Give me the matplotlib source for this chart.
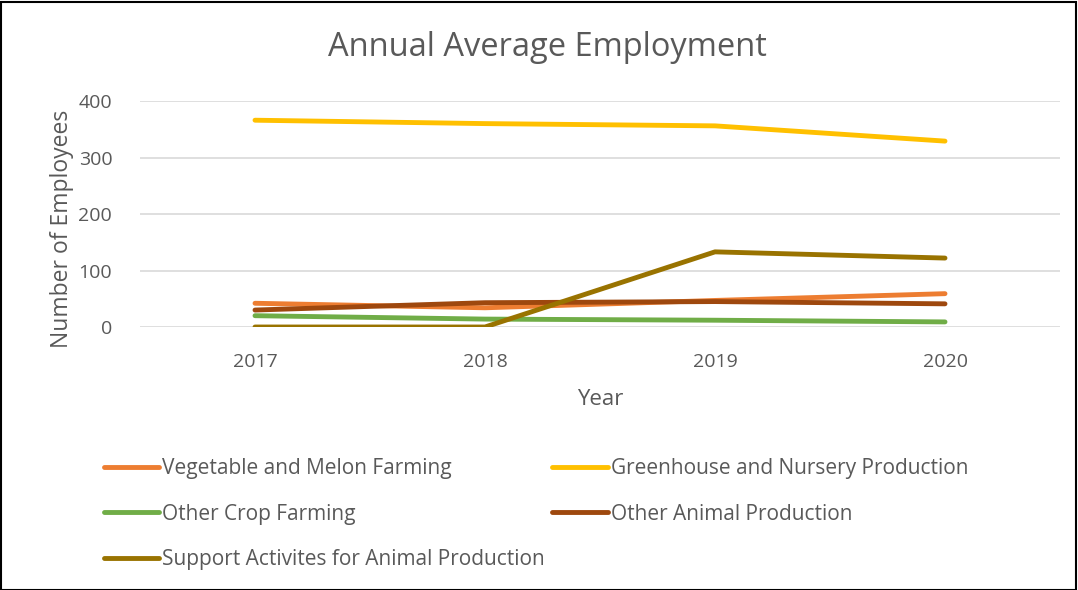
import matplotlib.pyplot as plt
from matplotlib.patches import Rectangle

plt.rcParams['font.family'] = ['Open Sans', 'DejaVu Sans']

years = ['2017', '2018', '2019', '2020']
vegetable = [42, 34, 47, 59]
greenhouse = [366, 360, 356, 329]
other_crop = [20, 14, 12, 9]
other_animal = [30, 43, 45, 41]
support = [0, 0, 133, 122]

series = [
    ("Vegetable and Melon Farming", vegetable, "#ED7D31"),
    ("Greenhouse and Nursery Production", greenhouse, "#FFC000"),
    ("Other Crop Farming", other_crop, "#70AD47"),
    ("Other Animal Production", other_animal, "#9E480E"),
    ("Support Activites for Animal Production", support, "#997300"),
]

text_col = "#595959"

fig = plt.figure(figsize=(10.78, 5.90), dpi=100)
ax = fig.add_axes([140 / 1078, 1 - 327 / 590, 920 / 1078, 226 / 590])

x = range(len(years))
lines = []
for name, vals, col in series:
    ln, = ax.plot(x, vals, color=col, lw=3.5, label=name, solid_capstyle='round')
    lines.append(ln)

ax.set_xlim(-0.5, 3.5)
ax.set_ylim(0, 400)
ax.set_yticks([0, 100, 200, 300, 400])
ax.set_xticks(list(x))
ax.set_xticklabels(years)
ax.grid(axis='y', color='#D9D9D9', lw=1.2)
ax.set_axisbelow(True)
for s in ax.spines.values():
    s.set_visible(False)
ax.tick_params(length=0, labelsize=14, colors=text_col)
ax.tick_params(axis='x', pad=19)
ax.tick_params(axis='y', pad=20)

ax.set_xlabel("Year", fontsize=16, color=text_col, labelpad=13)
ax.set_ylabel("Number of Employees", fontsize=16.5, color=text_col)
ax.yaxis.set_label_coords(-0.072, 0.435)
fig.text(0.508, 1 - 47 / 590, "Annual Average Employment", ha='center', va='center',
         fontsize=23.5, color=text_col)

# legend is filled row by row in the reference, matplotlib fills columns first
order = [0, 2, 4, 1, 3]
leg = fig.legend([lines[i] for i in order], [series[i][0] for i in order],
                 loc='upper left', bbox_to_anchor=(104 / 1078, 1 - 458 / 590), ncol=2,
                 frameon=False, fontsize=15, handlelength=2.65, handletextpad=0.15,
                 columnspacing=0.35, labelspacing=1.18, borderpad=0, borderaxespad=0,
                 labelcolor=text_col)

fig.patches.append(Rectangle((0.001, 0.0), 0.997, 0.997, transform=fig.transFigure,
                             fill=False, edgecolor='black', lw=1.5))

fig.savefig("out.png", dpi=100, facecolor='white')
